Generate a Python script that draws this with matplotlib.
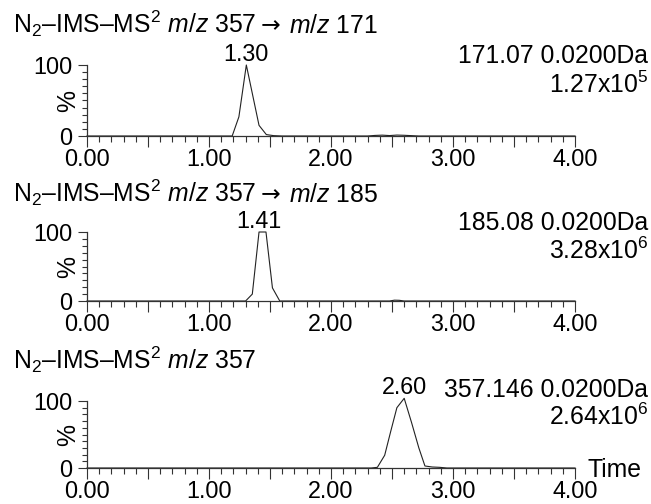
import numpy as np
import matplotlib
matplotlib.use('Agg')
import matplotlib.pyplot as plt
from matplotlib.ticker import MultipleLocator, FuncFormatter

plt.rcParams['font.family'] = ['Liberation Sans', 'DejaVu Sans']
plt.rcParams['mathtext.fontset'] = 'custom'
plt.rcParams['mathtext.rm'] = 'Liberation Sans'
plt.rcParams['mathtext.it'] = 'Liberation Sans:italic'
plt.rcParams['mathtext.bf'] = 'Liberation Sans:bold'

t1 = [0.00, 1.19, 1.245, 1.306, 1.41, 1.47, 1.53, 1.60, 2.30, 2.36, 2.42, 2.48, 2.54, 2.60, 2.66, 2.72, 4.00]
i1 = [0, 0, 27, 100, 15, 2, 0.5, 0, 0, 0.8, 1.2, 0.6, 1.3, 1.0, 0.5, 0, 0]

t2 = [0.00, 1.30, 1.355, 1.41, 1.467, 1.52, 1.58, 2.48, 2.52, 2.56, 2.60, 4.00]
i2 = [0, 0, 10, 100, 100, 19, 0, 0, 1.2, 1.0, 0, 0]

t3 = [0.00, 2.33, 2.38, 2.44, 2.49, 2.54, 2.60, 2.66, 2.72, 2.77, 2.83, 2.89, 2.95, 4.00]
i3 = [0, 0, 1, 19, 55, 90, 104, 68, 30, 3, 1.5, 1, 0, 0]

# Título en trozos: (texto antes de la flecha, texto después)
titles = [('N$_2$–IMS–MS$^2$ $m/z$ 357', '$m/z$ 171'),
          ('N$_2$–IMS–MS$^2$ $m/z$ 357', '$m/z$ 185'),
          ('N$_2$–IMS–MS$^2$ $m/z$ 357', None)]
peak_labels = ['1.30', '1.41', '2.60']
peak_pos = [1.306, 1.41, 2.60]
masses = ['171.07 0.0200Da', '185.08 0.0200Da', '357.146 0.0200Da']
intens = ['1.27x10$^5$', '3.28x10$^6$', '2.64x10$^6$']

W, H = 651, 504
fig = plt.figure(figsize=(W / 100, H / 100), dpi=100)
renderer = fig.canvas.get_renderer()

# Posiciones en píxeles: (arriba, abajo) de cada panel
bounds = [(65, 136), (232, 301), (401, 468)]
title_base = [33, 202, 369]
mass_base = [63, 230, 397]
int_base = [93, 259, 425]
left, right = 87, 575
fs = 16.8
fs_t = 17.8
gray = '#333333'

series = [(t1, i1), (t2, i2), (t3, i3)]
for k, (t, y) in enumerate(series):
    top, bot = bounds[k]
    ax = fig.add_axes([left / W, 1 - bot / H, (right - left) / W, (bot - top) / H])
    ax.plot(t, y, color='#222222', linewidth=0.8, clip_on=False)
    ax.set_xlim(0, 4)
    ax.set_ylim(0, 100)
    for s in ['top', 'right']:
        ax.spines[s].set_visible(False)
    for s in ['left', 'bottom']:
        ax.spines[s].set_color(gray)
        ax.spines[s].set_linewidth(0.9)

    ax.xaxis.set_major_locator(MultipleLocator(0.5))
    ax.xaxis.set_minor_locator(MultipleLocator(0.1))
    ax.xaxis.set_major_formatter(FuncFormatter(
        lambda v, p: f'{v:.2f}' if abs(v - round(v)) < 1e-6 else ''))
    ax.yaxis.set_major_locator(MultipleLocator(100))
    ax.yaxis.set_minor_locator(MultipleLocator(10))
    ax.tick_params(axis='x', which='major', length=8, width=0.8, color=gray,
                   labelsize=fs, pad=0.5)
    ax.tick_params(axis='x', which='minor', length=4, width=0.8, color=gray)
    ax.tick_params(axis='y', which='major', length=6.5, width=0.8, color=gray,
                   labelsize=fs, pad=4)
    ax.tick_params(axis='y', which='minor', length=3.3, width=0.8, color=gray)

    ax.annotate('%', xy=(0, 0.5), xycoords='axes fraction', xytext=(-19, 0),
                textcoords='offset pixels', rotation=90, ha='center', va='center',
                fontsize=fs_t)
    ax.annotate(peak_labels[k], xy=(peak_pos[k], max(y)), xytext=(0, 4),
                textcoords='offset pixels', ha='center', va='baseline', fontsize=fs,
                annotation_clip=False)

    # título: primera parte, flecha y segunda parte
    yb = 1 - title_base[k] / H
    first, second = titles[k]
    tx = fig.text(13 / W, yb, first, ha='left', va='baseline', fontsize=fs_t)
    if second is not None:
        x1 = tx.get_window_extent(renderer).x1
        ar = fig.text((x1 + 5) / W, yb + 1 / H, '→', ha='left', va='baseline',
                      fontsize=fs_t * 0.95, family='DejaVu Sans')
        x2 = ar.get_window_extent(renderer).x1
        fig.text((x2 + 8) / W, yb, second, ha='left', va='baseline', fontsize=fs_t)

    fig.text(648 / W, 1 - mass_base[k] / H, masses[k], ha='right', va='baseline', fontsize=fs_t)
    fig.text(648 / W, 1 - int_base[k] / H, intens[k], ha='right', va='baseline', fontsize=fs_t)

    if k == 2:
        ax.annotate('Time', xy=(1, 0), xycoords='axes fraction', xytext=(12, -2),
                    textcoords='offset pixels', ha='left', va='center', fontsize=fs_t)

fig.savefig('out.png', dpi=100)
